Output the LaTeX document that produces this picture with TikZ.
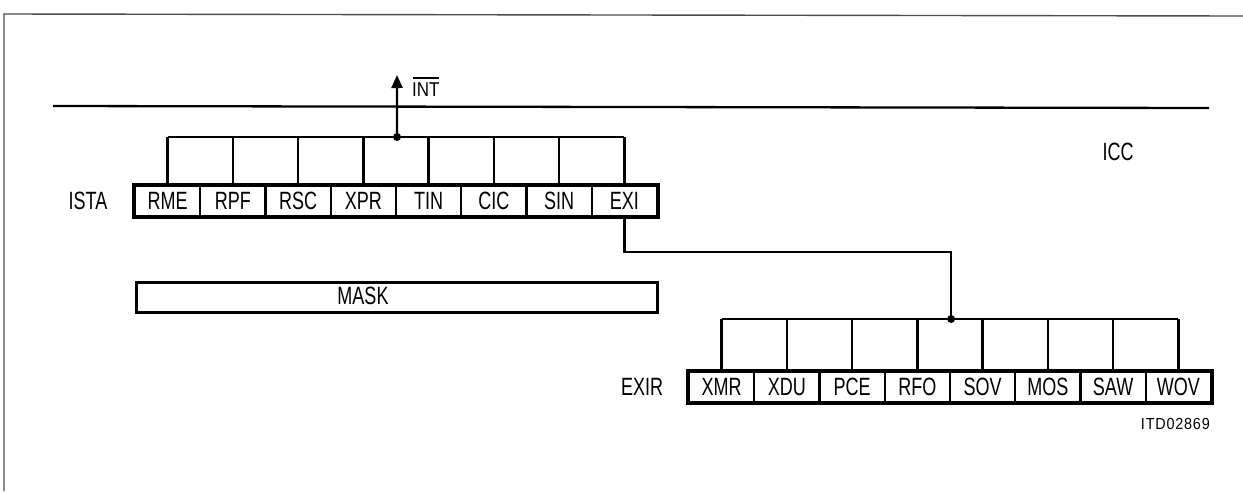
\documentclass[tikz,border=0pt]{standalone}
\usepackage{fontspec}
\usetikzlibrary{arrows.meta}
\newfontfamily\din[FakeStretch=0.72]{Liberation Sans}
\newfontfamily\dinint[FakeStretch=0.85]{Liberation Sans}
\newfontfamily\dinsmall[FakeStretch=0.9,LetterSpace=5]{Liberation Sans}
\begin{document}
\begin{tikzpicture}[x=1pt,y=-1pt,
  wire/.style={line width=2.3pt},
  frame/.style={line width=1.4pt, black!70},
  cell/.style={draw, line width=2.2pt, minimum width=65.25pt, minimum height=30pt, inner sep=0pt,
    font=\din\fontsize{25}{25}\selectfont},
  lbl/.style={inner sep=0pt, font=\din\fontsize{25}{25}\selectfont},
  small/.style={inner sep=0pt, font=\dinsmall\fontsize{16}{16}\selectfont},
  dot/.style={circle, fill, inner sep=0pt, minimum size=8pt}]
\useasboundingbox (0,0) rectangle (1243,491);
% frame
\coordinate (f0) at (4,491);
\coordinate (f1) at (4,14);
\coordinate (f2) at (1243,16);
\draw[frame] (f0) -- (f1) -- (f2);
% main horizontal line
\coordinate (h0) at (53,106);
\coordinate (h1) at (1209,108);
\draw[wire] (h0) -- (h1);
% ISTA register
\foreach \t [count=\k] in {RME,RPF,RSC,XPR,TIN,CIC,SIN,EXI}
  \node[cell] (i\k) at ({135+65.25*(\k-0.5)},201) {\t};
\draw[line width=3.2pt] (i1.north west) rectangle (i8.south east);
\node[lbl] (ista) at (88,201) {ISTA};
\coordinate (ctI) at (0,137);
\foreach \k in {1,...,8} \draw[wire] (i\k.north) -- (i\k.north |- ctI);
\draw[wire] (i1.north |- ctI) -- (i8.north |- ctI);
% INT output
\node[dot] (dI) at (i4.north east |- ctI) {};
\coordinate (aI) at (397,75);
\draw[wire, -{Triangle[length=13pt,width=11pt]}] (dI.center) -- (aI);
\node[inner sep=0pt, anchor=west, font=\dinint\fontsize{20}{20}\selectfont] (int) at (412,90) {INT};
\draw[line width=1.4pt] ([xshift=1pt,yshift=5pt]int.north west) -- ([xshift=-1pt,yshift=5pt]int.north east);
% ICC
\node[lbl] (icc) at (1118,152) {ICC};
% MASK
\node[draw, line width=2.8pt, minimum width=521pt, minimum height=30pt, inner sep=0pt, anchor=north west] (mask) at (135,281) {};
\node[lbl] (masktxt) at (363,295.5) {MASK};
% EXIR register
\foreach \t [count=\k] in {XMR,XDU,PCE,RFO,SOV,MOS,SAW,WOV}
  \node[cell] (e\k) at ({689+65.25*(\k-0.5)},387) {\t};
\draw[line width=3.2pt] (e1.north west) rectangle (e8.south east);
\node[lbl] (exir) at (642,387) {EXIR};
\coordinate (ctE) at (0,319);
\foreach \k in {1,...,8} \draw[wire] (e\k.north) -- (e\k.north |- ctE);
\draw[wire] (e1.north |- ctE) -- (e8.north |- ctE);
\node[dot] (dE) at (e4.north east |- ctE) {};
% EXI link
\coordinate (bend) at (0,252);
\draw[wire] (i8.south) -- (i8.south |- bend) -| (dE.center);
% code
\node[small, anchor=east] (code) at (1210,424) {ITD02869};
\end{tikzpicture}
\end{document}
